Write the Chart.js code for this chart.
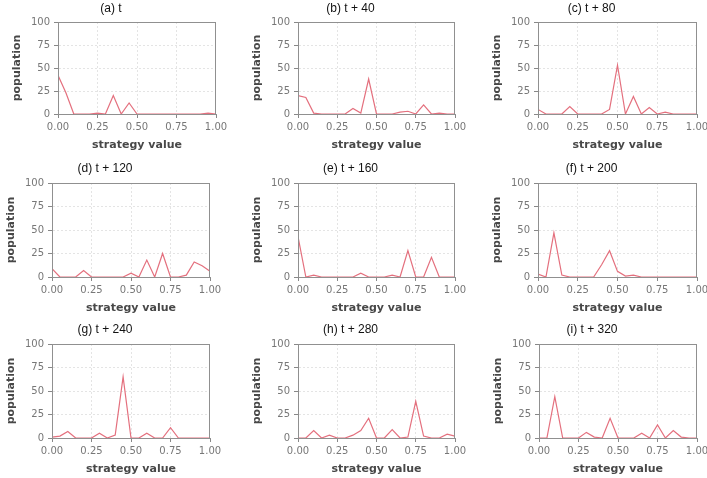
<!DOCTYPE html>
<html><head><meta charset="utf-8">
<script src="https://cdn.jsdelivr.net/npm/chart.js@4.4.1/dist/chart.umd.min.js"></script>
<style>
html,body{margin:0;padding:0;background:#fff;width:707px;height:478px;overflow:hidden;position:relative;}
canvas{position:absolute;}
.ttl{position:absolute;font-family:"Liberation Sans",Arial,sans-serif;font-size:12px;color:#111;text-align:center;line-height:14px;white-space:nowrap;}
</style></head><body>
<script>
// ---- data ----
const strategyValues = [0,0.05,0.1,0.15,0.2,0.25,0.3,0.35,0.4,0.45,0.5,0.55,0.6,0.65,0.7,0.75,0.8,0.85,0.9,0.95,1];
const xTickValues = [0,0.25,0.5,0.75,1];
const yTickValues = [0,25,50,75,100];
const panelTitles = ['(a) t','(b) t + 40','(c) t + 80','(d) t + 120','(e) t + 160','(f) t + 200','(g) t + 240','(h) t + 280','(i) t + 320'];
const popA = [42,23,0,0,0,1,0,20,0,12,0,0,0,0,0,0,0,0,0,1,0];
const popB = [20,18,1,0,0,0,0,6,1,38,0,0,0,2,3,0,10,0,1,0,0];
const popC = [5,0,0,0,8,0,0,0,0,5,53,0,19,0,7,0,2,0,0,0,0];
const popD = [9,0,0,0,7,0,0,0,0,0,4,0,18,0,25,0,0,2,16,12,6];
const popE = [43,0,2,0,0,0,0,0,4,0,0,0,2,0,28,0,0,21,0,0,0];
const popF = [3,0,47,2,0,0,0,0,13,28,6,1,2,0,0,0,0,0,0,0,0];
const popG = [1,2,7,0,0,0,5,0,3,65,0,0,5,0,0,11,0,0,0,0,0];
const popH = [0,0,8,0,3,0,0,3,8,21,0,0,9,0,1,39,2,0,0,4,2];
const popI = [0,0,44,0,0,0,6,1,0,21,0,0,0,5,0,14,0,8,1,0,0];
const allSeries = [popA,popB,popC,popD,popE,popF,popG,popH,popI];

// ---- layout (plot-area boxes in page pixels: left, top, right, bottom) ----
const plotBoxes = [
  [58,22,216,114],[298,22,455,114],[538,22,697,114],
  [52,183,210,277],[298,183,455,277],[538,183,697,277],
  [52,344,210,438],[298,344,455,438],[539,344,697,438]
];
const titleY = [7,7,7,167,167,167,328,328,328];
const Y_AXIS_W = 52, PAD_TOP = 10, PAD_RIGHT = 15, X_AXIS_H = 42;

const framePlugin = {
  id:'frame',
  afterDatasetsDraw(chart){
    const {ctx, chartArea:a} = chart;
    ctx.save();
    ctx.strokeStyle = '#909090';
    ctx.lineWidth = 1;
    ctx.strokeRect(a.left+0.5, a.top+0.5, a.right-a.left-1, a.bottom-a.top);
    ctx.restore();
  }
};

const tickFont = {family:'"DejaVu Sans", Verdana, sans-serif', size:10};
const titleFont = {family:'"DejaVu Sans", Verdana, sans-serif', size:11, weight:'bold', lineHeight:1.2};
function gridColor(edgeVals){
  return (c)=> (c.tick && edgeVals.includes(c.tick.value)) ? 'rgba(0,0,0,0)' : '#e4e4e4';
}

plotBoxes.forEach((b, i)=>{
  const [l,t,r,bt] = b;
  const w = Y_AXIS_W + (r-l) + PAD_RIGHT;
  const h = PAD_TOP + (bt-t) + X_AXIS_H;
  const cv = document.createElement('canvas');
  cv.width = w; cv.height = h;
  cv.style.left = (l - Y_AXIS_W) + 'px';
  cv.style.top = (t - PAD_TOP) + 'px';
  cv.style.width = w + 'px'; cv.style.height = h + 'px';
  document.body.appendChild(cv);

  const tt = document.createElement('div');
  tt.className = 'ttl';
  tt.textContent = panelTitles[i];
  tt.style.left = (l - Y_AXIS_W) + 'px';
  tt.style.width = (r - l + Y_AXIS_W) + 'px';
  tt.style.top = (titleY[i] - 6) + 'px';
  document.body.appendChild(tt);

  new Chart(cv.getContext('2d'), {
    type:'line',
    data:{
      datasets:[{
        data: strategyValues.map((x,k)=>({x:x, y:allSeries[i][k]})),
        borderColor:'#e4707e',
        borderWidth:1.2,
        pointRadius:0,
        tension:0,
        fill:false
      }]
    },
    options:{
      responsive:false,
      animation:false,
      devicePixelRatio:1,
      layout:{padding:{top:PAD_TOP,right:PAD_RIGHT,left:0,bottom:0}},
      plugins:{legend:{display:false},tooltip:{enabled:false},title:{display:false}},
      scales:{
        x:{
          type:'linear', min:0, max:1,
          afterFit(s){ s.height = X_AXIS_H; },
          afterBuildTicks(s){ s.ticks = xTickValues.map(v=>({value:v})); },
          ticks:{callback:(v)=>Number(v).toFixed(2), color:'#777', font:tickFont, padding:3, maxRotation:0, autoSkip:false},
          grid:{color:gridColor([0,1]), tickLength:4, tickColor:'#888', drawTicks:true, lineWidth:1},
          border:{display:true, color:'#909090', dash:[2,2]},
          title:{display:true, text:'strategy value', color:'#484848', font:titleFont, padding:{top:0,bottom:4}}
        },
        y:{
          type:'linear', min:0, max:100,
          afterFit(s){ s.width = Y_AXIS_W; },
          afterBuildTicks(s){ s.ticks = yTickValues.map(v=>({value:v})); },
          ticks:{color:'#777', font:tickFont, padding:4},
          grid:{color:gridColor([0,100]), tickLength:4, tickColor:'#888', drawTicks:true, lineWidth:1},
          border:{display:true, color:'#909090', dash:[2,2]},
          title:{display:true, text:'population', color:'#484848', font:titleFont, padding:{top:5,bottom:0}}
        }
      }
    },
    plugins:[framePlugin]
  });
});
</script>
</body></html>
